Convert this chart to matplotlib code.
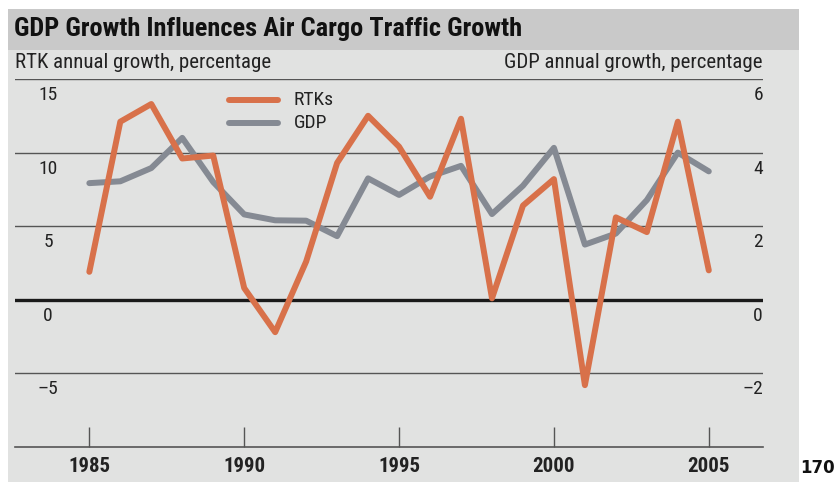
import matplotlib
matplotlib.use("Agg")
import matplotlib.pyplot as plt
import matplotlib.transforms as mtransforms
from matplotlib.patches import Rectangle
from matplotlib import font_manager

# --- Data ---
years = list(range(1985, 2006))
rtk_growth = [1.9, 12.1, 13.3, 9.6, 9.8, 0.8, -2.2, 2.6, 9.3, 12.5, 10.4,
              7.0, 12.3, 0.1, 6.4, 8.2, -5.8, 5.6, 4.6, 12.1, 2.0]
gdp_growth = [3.17, 3.22, 3.58, 4.4, 3.2, 2.32, 2.16, 2.15, 1.73, 3.3, 2.85,
              3.35, 3.64, 2.33, 3.1, 4.13, 1.5, 1.8, 2.71, 4.0, 3.49]

left_ticks = [15, 10, 5, 0, -5]
left_labels = ["15", "10", "5", "0", "\u20135"]
right_labels = ["6", "4", "2", "0", "\u20132"]
year_ticks = [1985, 1990, 1995, 2000, 2005]

title = "GDP Growth Influences Air Cargo Traffic Growth"
left_sub = "RTK annual growth, percentage"
right_sub = "GDP annual growth, percentage"

# --- Fonts: pick a condensed sans that is installed ---
names = {f.name for f in font_manager.fontManager.ttflist}
narrow = "DejaVu Sans"
for cand in ["Roboto Condensed", "Archivo Narrow", "PT Sans Narrow",
             "Sofia Sans Condensed", "Encode Sans Condensed"]:
    if cand in names:
        narrow = cand
        break
plt.rcParams['font.family'] = [narrow, 'DejaVu Sans']

orange = "#d8714a"
grey = "#858a93"
panel = "#e1e2e1"
bar = "#c9c9c9"

W, H = 834, 482
fig = plt.figure(figsize=(W / 100, H / 100), dpi=100)

def px(x0, y0, x1, y1):
    # pixel box (top-left origin) -> figure fraction rect
    return [x0 / W, 1 - y1 / H, (x1 - x0) / W, (y1 - y0) / H]

# background panels
r = px(8, 50, 799, 482)
fig.patches.append(Rectangle((r[0], r[1]), r[2], r[3], transform=fig.transFigure,
                             facecolor=panel, edgecolor="none", zorder=0))
r = px(8, 9, 799, 50)
fig.patches.append(Rectangle((r[0], r[1]), r[2], r[3], transform=fig.transFigure,
                             facecolor=bar, edgecolor="none", zorder=0))

fig.text(14 / W, 1 - 29 / H, title, fontsize=19, fontweight="bold",
         color="#111111", va="center", ha="left")
fig.text(15 / W, 1 - 63 / H, left_sub, fontsize=15, color="#222222",
         va="center", ha="left")
fig.text(762 / W, 1 - 63 / H, right_sub, fontsize=15, color="#222222",
         va="center", ha="right")
fig.text(818 / W, 1 - 468 / H, "170", fontsize=12, fontweight="bold",
         color="#111111", va="center", ha="center", family="DejaVu Sans")

ax = fig.add_axes(px(15, 79, 763, 447))
ax.set_facecolor("none")
ax.set_xlim(1982.6, 2006.75)
ax.set_ylim(-10, 15)
ax.set_zorder(2)

for s in ["top", "left", "right"]:
    ax.spines[s].set_visible(False)
ax.spines["bottom"].set_color("#555555")
ax.spines["bottom"].set_linewidth(1.2)

# horizontal grid lines
for v in left_ticks:
    if v == 0:
        ax.axhline(v, color="#1a1a1a", lw=2.4, zorder=1)
    else:
        ax.axhline(v, color="#555555", lw=1.0, zorder=1)

# y labels sit just below each grid line
ax.set_yticks([])
off = mtransforms.ScaledTranslation(0, -16 / 100, fig.dpi_scale_trans)
ltrans = mtransforms.blended_transform_factory(ax.transAxes, ax.transData) + off
for v, lab in zip(left_ticks, left_labels):
    ax.text(33 / 748, v, lab, transform=ltrans, ha="center", va="center",
            fontsize=14, color="#222222")
for v, lab in zip(left_ticks, right_labels):
    ax.text(1.0, v, lab, transform=ltrans, ha="right", va="center",
            fontsize=14, color="#222222")

ax.set_xticks(year_ticks)
ax.set_xticklabels([str(y) for y in year_ticks], fontweight="bold",
                   fontsize=15, color="#222222")
ax.tick_params(axis="x", direction="in", length=14.5, width=1.0,
               color="#555555", pad=7)

# series: GDP plotted on right scale (x2.5 relative to left)
ax.plot(years, [g * 2.5 for g in gdp_growth], color=grey, lw=4.3,
        solid_joinstyle="round", solid_capstyle="round", zorder=3, label="GDP")
ax.plot(years, rtk_growth, color=orange, lw=4.3,
        solid_joinstyle="round", solid_capstyle="round", zorder=4, label="RTKs")

# legend drawn manually to match the reference placement
lx0, lx1, ltx = 1989.5, 1991.1, 1991.6
for yv, col, name in [(13.6, orange, "RTKs"), (12.0, grey, "GDP")]:
    ax.plot([lx0, lx1], [yv, yv], color=col, lw=4.3, solid_capstyle="round", zorder=5)
    ax.text(ltx, yv, name, ha="left", va="center", fontsize=14, color="#222222")

fig.savefig("out.png", dpi=100)
